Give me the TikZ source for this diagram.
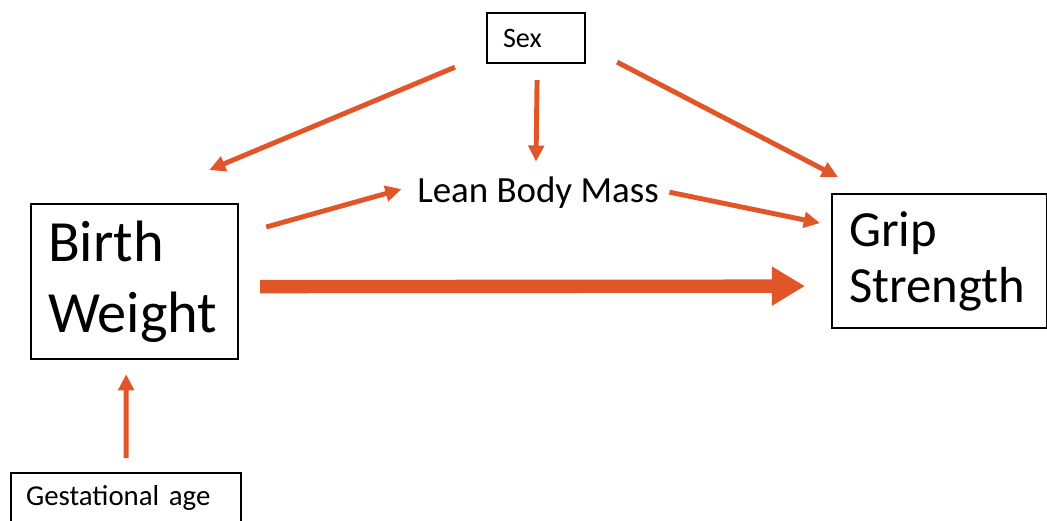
\documentclass[tikz,border=0pt]{standalone}
\usepackage{fontspec}
\setmainfont{Carlito}
\usetikzlibrary{arrows.meta}
\definecolor{arrorange}{RGB}{224,86,40}
\begin{document}
\begin{tikzpicture}[x=0.01cm,y=-0.01cm]

  \tikzset{box/.style={draw,line width=0.6pt,anchor=north west,align=left,inner ysep=0pt},
           arr/.style={draw=arrorange,line width=1.4pt,-{Triangle[length=4.6pt,width=4.4pt]}},
           bigarr/.style={draw=arrorange,line width=3.8pt,-{Triangle[length=9.4pt,width=10.5pt]}}}
  \useasboundingbox (0,0) rectangle (1047,520);
  \clip (0,0) rectangle (1047,520);

  \node[box,inner xsep=0.16cm,text width=0.66cm,minimum height=0.5cm,font=\fontsize{8}{9.6}\selectfont] (sex) at (486,12) {Sex};
  \node[anchor=base,inner sep=0pt,font=\fontsize{10.5}{12.5}\selectfont] (lbm) at (538,202) {Lean Body Mass};
  \node[box,inner xsep=0.17cm,text width=1.73cm,minimum height=1.55cm,font=\fontsize{16.6}{20}\selectfont] (bw) at (30,203) {Birth\\Weight};
  \node[box,inner xsep=0.17cm,text width=1.81cm,minimum height=1.34cm,font=\fontsize{14.4}{16}\selectfont] (grip) at (831,193) {Grip\\Strength};
  \node[box,inner xsep=0.15cm,text width=2.0cm,minimum height=0.5cm,font=\fontsize{8.2}{10}\selectfont] (ga) at (10,472) {Gestational age};

  \path[arr] ([shift={(-31,3)}]sex.south west) -- ([shift={(-30,-33)}]bw.north east);
  \path[arr] ([shift={(1,16)}]sex.south) -- ([shift={(-2,-14)}]lbm.north);
  \path[arr] ([shift={(31,-2)}]sex.south east) -- ([shift={(7,-16)}]grip.north west);
  \path[arr] ([shift={(27,24)}]bw.north east) -- ([shift={(-15,-3)}]lbm.west);
  \path[arr] ([shift={(10,0)}]lbm.east) -- ([shift={(-11,-38)}]grip.west);
  \path[bigarr] ([shift={(21,5)}]bw.east) -- ([shift={(-26,25)}]grip.west);
  \path[arr] ([shift={(0,-14)}]ga.north) -- ([shift={(-8.5,14)}]bw.south);
\end{tikzpicture}
\end{document}
